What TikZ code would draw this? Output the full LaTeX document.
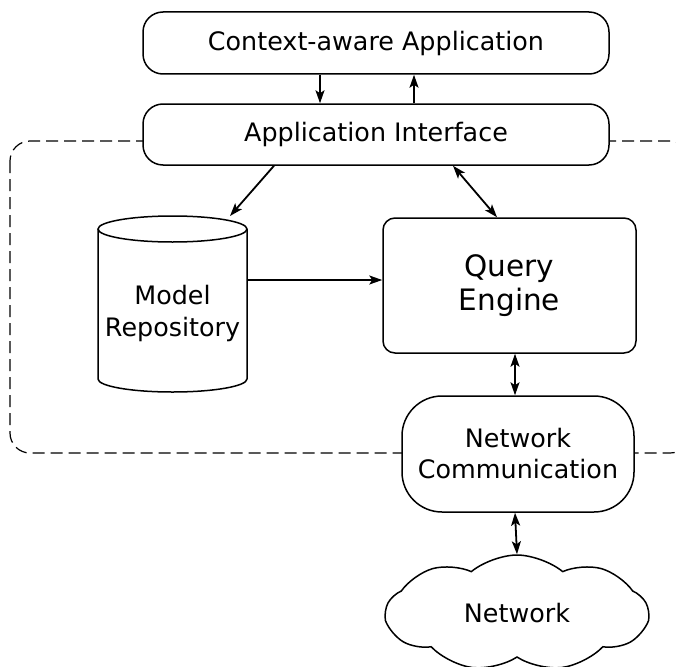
\documentclass[tikz,border=0pt]{standalone}
\usepackage{fontspec}
\setmainfont{DejaVu Sans}
\usetikzlibrary{arrows.meta,shapes.symbols}
\begin{document}
\begin{tikzpicture}[x=1pt,y=-1pt,
  box/.style={draw,line width=1.5pt,fill=white,rounded corners=#1,inner sep=0pt,align=center,font=\fontsize{25.4}{31}\selectfont},
  box/.default=20pt,
  tip/.tip={Stealth[length=13pt,width=9pt,inset=3pt]},
  conn/.style={line width=1.8pt,-tip},
  bconn/.style={line width=1.8pt,tip-tip},
  dashbox/.style={draw,line width=1.2pt,dash pattern=on 12pt off 6pt,rounded corners=20pt}]
\useasboundingbox (0,0) rectangle (676,666);
\clip (0,0) rectangle (676,666);
% dashed container
\draw[dashbox] (10,141) rectangle (690,453);
% top boxes
\node[box, minimum width=466pt, minimum height=62pt] (app) at (376,43) {Context-aware Application};
\node[box, minimum width=466pt, minimum height=61pt] (api) at (376,134.5) {Application Interface};
% cylinder
\draw[line width=1.5pt,fill=white] (98,229) -- (98,379) arc[start angle=180,end angle=360,x radius=74.5pt,y radius=13pt] -- (247,229);
\draw[line width=1.5pt,fill=white] (172.5,229) ellipse[x radius=74.5pt,y radius=13pt];
\node[inner sep=0pt,align=center,font=\fontsize{25.4}{32}\selectfont] (repo) at (172.5,313) {Model\\Repository};
\coordinate (repotop) at (230,216);
\coordinate (reporight) at (248,280);
% query engine
\node[box=12pt, minimum width=253pt, minimum height=135pt, font=\fontsize{29.5}{34}\selectfont] (qe) at (509.5,285.5) {Query\\Engine};
% network communication
\node[box=40pt, minimum width=232pt, minimum height=116pt] (nc) at (518,454) {Network\\Communication};
% cloud
\node[cloud, cloud puffs=9, cloud puff arc=80, aspect=2.2, draw, line width=1.5pt, fill=white, minimum width=262pt, minimum height=116pt, inner sep=0pt, font=\fontsize{25.4}{30}\selectfont] (net) at (517,613) {Network};
% connectors
\draw[conn] ([xshift=-56pt]app.south) -- ([xshift=-56pt]api.north);
\draw[conn] ([xshift=38pt]api.north) -- ([xshift=38pt]app.south);
\draw[conn] ([xshift=-102pt]api.south) -- (repotop);
\draw[bconn] ([xshift=77pt]api.south) -- ([xshift=-12.5pt]qe.north);
\draw[conn] (reporight) -- (reporight -| qe.west);
\draw[bconn] ([xshift=5.5pt]qe.south) -- ([xshift=-3pt]nc.north);
\draw[bconn] ([xshift=-3pt]nc.south) -- (net.north);
\end{tikzpicture}
\end{document}
